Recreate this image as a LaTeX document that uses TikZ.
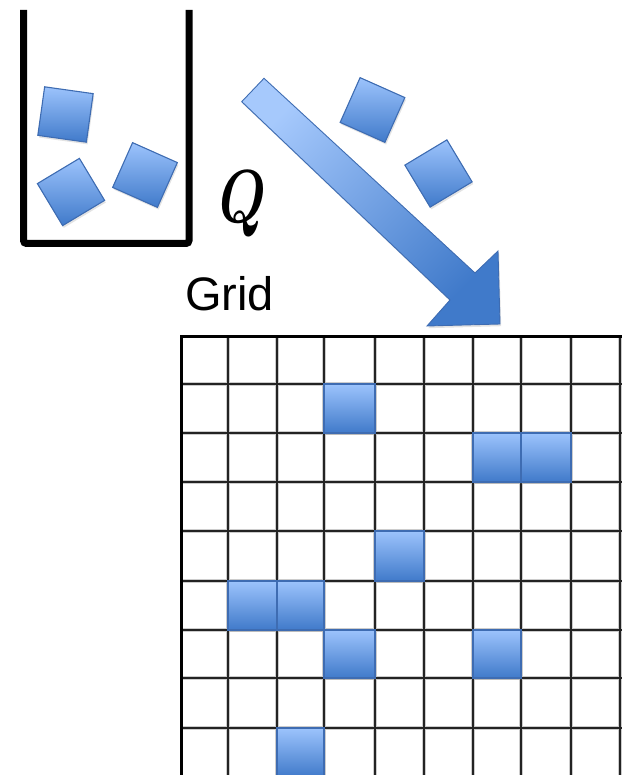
\documentclass[tikz,border=0pt]{standalone}
\usepackage{fontspec}
\setmainfont{Liberation Sans}
\usetikzlibrary{shadows,fit}

\definecolor{blocklight}{RGB}{156,195,252}
\definecolor{blockdark}{RGB}{64,122,202}
\definecolor{blockedge}{RGB}{62,108,178}
\definecolor{gridline}{RGB}{35,35,35}

\begin{document}
\begin{tikzpicture}[x=1pt,y=-1pt,
  softshadow/.style={drop shadow={opacity=0.22,shadow xshift=1.2pt,shadow yshift=-2.2pt}},
  block/.style={draw=blockedge, line width=1.1pt, top color=blocklight,
    bottom color=blockdark, minimum size=49pt, inner sep=0pt, softshadow},
  cell/.style={draw=blockedge, line width=1.3pt, top color=blocklight,
    bottom color=blockdark, inner sep=0pt, softshadow},
  gridhalo/.style={draw=black!20, line width=4.8pt},
  gridrule/.style={draw=gridline, line width=2.4pt},
  gridedge/.style={draw=black, line width=3pt},
  bucket/.style={draw=black, line width=7pt, rounded corners=3pt},
  flowarrow/.style={draw=blockedge, line width=0.9pt, top color=blocklight!90!white,
    bottom color=blockdark, shading angle=45, softshadow},
  label/.style={inner sep=0pt}]

\useasboundingbox (0,0) rectangle (621,775);

% container holding three loose blocks
\draw[bucket] (23.5,10) -- (23.5,243.5) -- (189,243.5) -- (189,10);
\node[block, rotate=-8] (b1) at (65.5,114.5) {};
\node[block, rotate=31] (b2) at (71,192) {};
\node[block, rotate=-24] (b3) at (145,175) {};

% label of the flow
\node[label] (q) at (243,204) {\scalebox{5.4}[7.5]{\boldmath$Q$}};

% thick arrow carrying blocks onto the grid
\coordinate (ta) at (241.7,101.7);
\coordinate (tb) at (264,78.3);
\coordinate (he) at (475,273);
\coordinate (hc) at (498,251);
\coordinate (tip) at (500,324);
\coordinate (hd) at (427,326);
\coordinate (hf) at (450,300);
\path[flowarrow] (tb) -- (he) -- (hc) -- (tip) -- (hd) -- (hf) -- (ta) -- cycle;

\node[block, rotate=-24] (b4) at (372.5,110) {};
\node[block, rotate=31] (b5) at (438.5,173.5) {};

% grid caption
\node[label, anchor=base west, font=\fontsize{47}{50}\selectfont] (gridlabel) at (185,310) {Grid};

% grid lines
\foreach \gx in {228,277,324,375,424,473,521,571,620}
  \draw[gridhalo] (\gx,336) -- (\gx,780);
\foreach \gy in {384,433,482,531,581,630,678,728}
  \draw[gridhalo] (181,\gy) -- (625,\gy);
\foreach \gx in {228,277,324,375,424,473,521,571,620}
  \draw[gridrule] (\gx,336) -- (\gx,780);
\foreach \gy in {384,433,482,531,581,630,678,728}
  \draw[gridrule] (181,\gy) -- (625,\gy);
\draw[gridedge] (181,780) -- (181,336) -- (625,336);

% occupied cells
\foreach \cn/\xa/\ya/\xb/\yb in {
    r1c3/324/384/375/433, r2c6/473/433/521/482, r2c7/521/433/571/482,
    r4c4/375/531/424/581, r5c1/228/581/277/630, r5c2/277/581/324/630,
    r6c3/324/630/375/678, r6c6/473/630/521/678, r8c2/277/728/324/777}
  \node[cell, fit={(\xa,\ya) (\xb,\yb)}] (\cn) {};

\end{tikzpicture}
\end{document}
